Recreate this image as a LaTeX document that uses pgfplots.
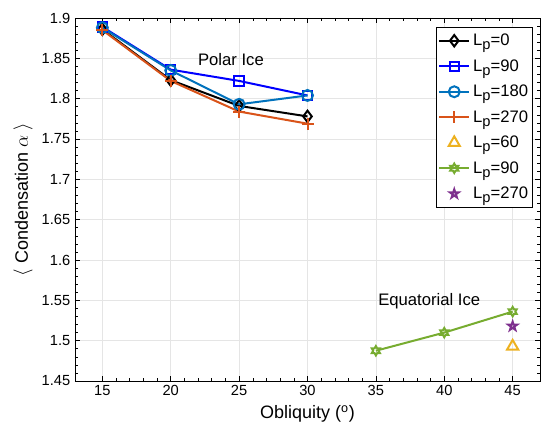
\documentclass[border=0pt]{standalone}
\usepackage{fontspec}
\setmainfont{Liberation Sans}
\usepackage{pgfplots}
\pgfplotsset{compat=1.18}

\definecolor{mblue}{rgb}{0,0,1}
\definecolor{mlblue}{rgb}{0,0.447,0.741}
\definecolor{morange}{rgb}{0.85,0.325,0.098}
\definecolor{myellow}{rgb}{0.929,0.694,0.125}
\definecolor{mgreen}{rgb}{0.466,0.674,0.188}
\definecolor{mpurple}{rgb}{0.494,0.184,0.556}

% MATLAB-like star markers
\pgfdeclareplotmark{pentagram}{%
  \pgfpathmoveto{\pgfpointpolar{90}{\pgfplotmarksize}}%
  \pgfpathlineto{\pgfpointpolar{126}{0.382\pgfplotmarksize}}%
  \pgfpathlineto{\pgfpointpolar{162}{\pgfplotmarksize}}%
  \pgfpathlineto{\pgfpointpolar{198}{0.382\pgfplotmarksize}}%
  \pgfpathlineto{\pgfpointpolar{234}{\pgfplotmarksize}}%
  \pgfpathlineto{\pgfpointpolar{270}{0.382\pgfplotmarksize}}%
  \pgfpathlineto{\pgfpointpolar{306}{\pgfplotmarksize}}%
  \pgfpathlineto{\pgfpointpolar{342}{0.382\pgfplotmarksize}}%
  \pgfpathlineto{\pgfpointpolar{18}{\pgfplotmarksize}}%
  \pgfpathlineto{\pgfpointpolar{54}{0.382\pgfplotmarksize}}%
  \pgfpathclose\pgfusepathqstroke}
\pgfdeclareplotmark{hexagram}{%
  \pgfpathmoveto{\pgfpointpolar{90}{\pgfplotmarksize}}%
  \pgfpathlineto{\pgfpointpolar{120}{0.577\pgfplotmarksize}}%
  \pgfpathlineto{\pgfpointpolar{150}{\pgfplotmarksize}}%
  \pgfpathlineto{\pgfpointpolar{180}{0.577\pgfplotmarksize}}%
  \pgfpathlineto{\pgfpointpolar{210}{\pgfplotmarksize}}%
  \pgfpathlineto{\pgfpointpolar{240}{0.577\pgfplotmarksize}}%
  \pgfpathlineto{\pgfpointpolar{270}{\pgfplotmarksize}}%
  \pgfpathlineto{\pgfpointpolar{300}{0.577\pgfplotmarksize}}%
  \pgfpathlineto{\pgfpointpolar{330}{\pgfplotmarksize}}%
  \pgfpathlineto{\pgfpointpolar{0}{0.577\pgfplotmarksize}}%
  \pgfpathlineto{\pgfpointpolar{30}{\pgfplotmarksize}}%
  \pgfpathlineto{\pgfpointpolar{60}{0.577\pgfplotmarksize}}%
  \pgfpathclose\pgfusepathqstroke}

\newcommand{\Lp}{L\raisebox{-0.45ex}{\fontsize{11}{11}\selectfont p}}

\begin{document}
\begin{tikzpicture}
\path[use as bounding box] (-56.25pt,-40.5pt) rectangle (350.25pt,285.75pt);
\begin{axis}[
    at={(0,0)}, anchor=south west,
    scale only axis, width=348.75pt, height=272.25pt,
    xmin=13, xmax=47, ymin=1.45, ymax=1.9,
    xtick={15,20,...,45},
    ytick={1.45,1.5,...,1.91},
    minor x tick num=4, minor y tick num=4,
    tick align=inside,
    major tick length=3.5pt, minor tick length=2pt,
    tick style={black, line width=0.4pt},
    grid=major, major grid style={gray!20, line width=0.5pt},
    axis line style={black, line width=0.5pt},
    /pgf/number format/assume math mode=true,
    yticklabel style={/pgf/number format/fixed, /pgf/number format/precision=2},
    ticklabel style={font=\fontsize{11}{13}\selectfont},
    label style={font=\fontsize{13.5}{16}\selectfont},
    xlabel={Obliquity (\textsuperscript{o})},
    ylabel={$\langle$ Condensation $\alpha$ $\rangle$},
    legend style={at={(rel axis cs:1,1)}, xshift=-5.25pt, yshift=-6.75pt,
        anchor=north east, draw=black, line width=0.4pt, fill=white,
        font=\fontsize{12.5}{14}\selectfont, row sep=4.9pt,
        inner xsep=1.5pt, inner ysep=3pt},
    legend cell align=left,
    legend image code/.code={%
        \draw[mark repeat=2, mark phase=2]
        plot coordinates {(0cm,0cm) (0.4cm,0cm) (0.8cm,0cm)};},
    every axis plot/.append style={line width=1.5pt},
    mark options={solid},
]
\addplot[black, mark=diamond, mark size=4.3pt] coordinates {
    (15,1.886) (20,1.823) (25,1.791) (30,1.778)};
\addlegendentry{\Lp=0}
\addplot[mblue, mark=square, mark size=3.5pt] coordinates {
    (15,1.889) (20,1.836) (25,1.822) (30,1.804)};
\addlegendentry{\Lp=90}
\addplot[mlblue, mark=o, mark size=4.1pt] coordinates {
    (15,1.888) (20,1.835) (25,1.793) (30,1.804)};
\addlegendentry{\Lp=180}
\addplot[morange, mark=+, mark size=4.5pt] coordinates {
    (15,1.885) (20,1.822) (25,1.784) (30,1.769)};
\addlegendentry{\Lp=270}
\addplot[myellow, only marks, mark=triangle, mark size=4.8pt,
    legend image code/.code={\draw plot coordinates {(0.4cm,0cm)};}]
    coordinates {(45,1.493)};
\addlegendentry{\Lp=60}
\addplot[mgreen, mark=hexagram, mark size=3.5pt] coordinates {
    (35,1.4875) (40,1.510) (45,1.536)};
\addlegendentry{\Lp=90}
\addplot[mpurple, only marks, mark=pentagram, mark size=3.4pt,
    legend image code/.code={\draw plot coordinates {(0.4cm,0cm)};}]
    coordinates {(45,1.518)};
\addlegendentry{\Lp=270}
\node[font=\fontsize{12.5}{15}\selectfont] at (axis cs:24.4,1.849) {Polar Ice};
\node[font=\fontsize{12.5}{15}\selectfont] at (axis cs:38.9,1.549) {Equatorial Ice};
\end{axis}
\end{tikzpicture}
\end{document}
